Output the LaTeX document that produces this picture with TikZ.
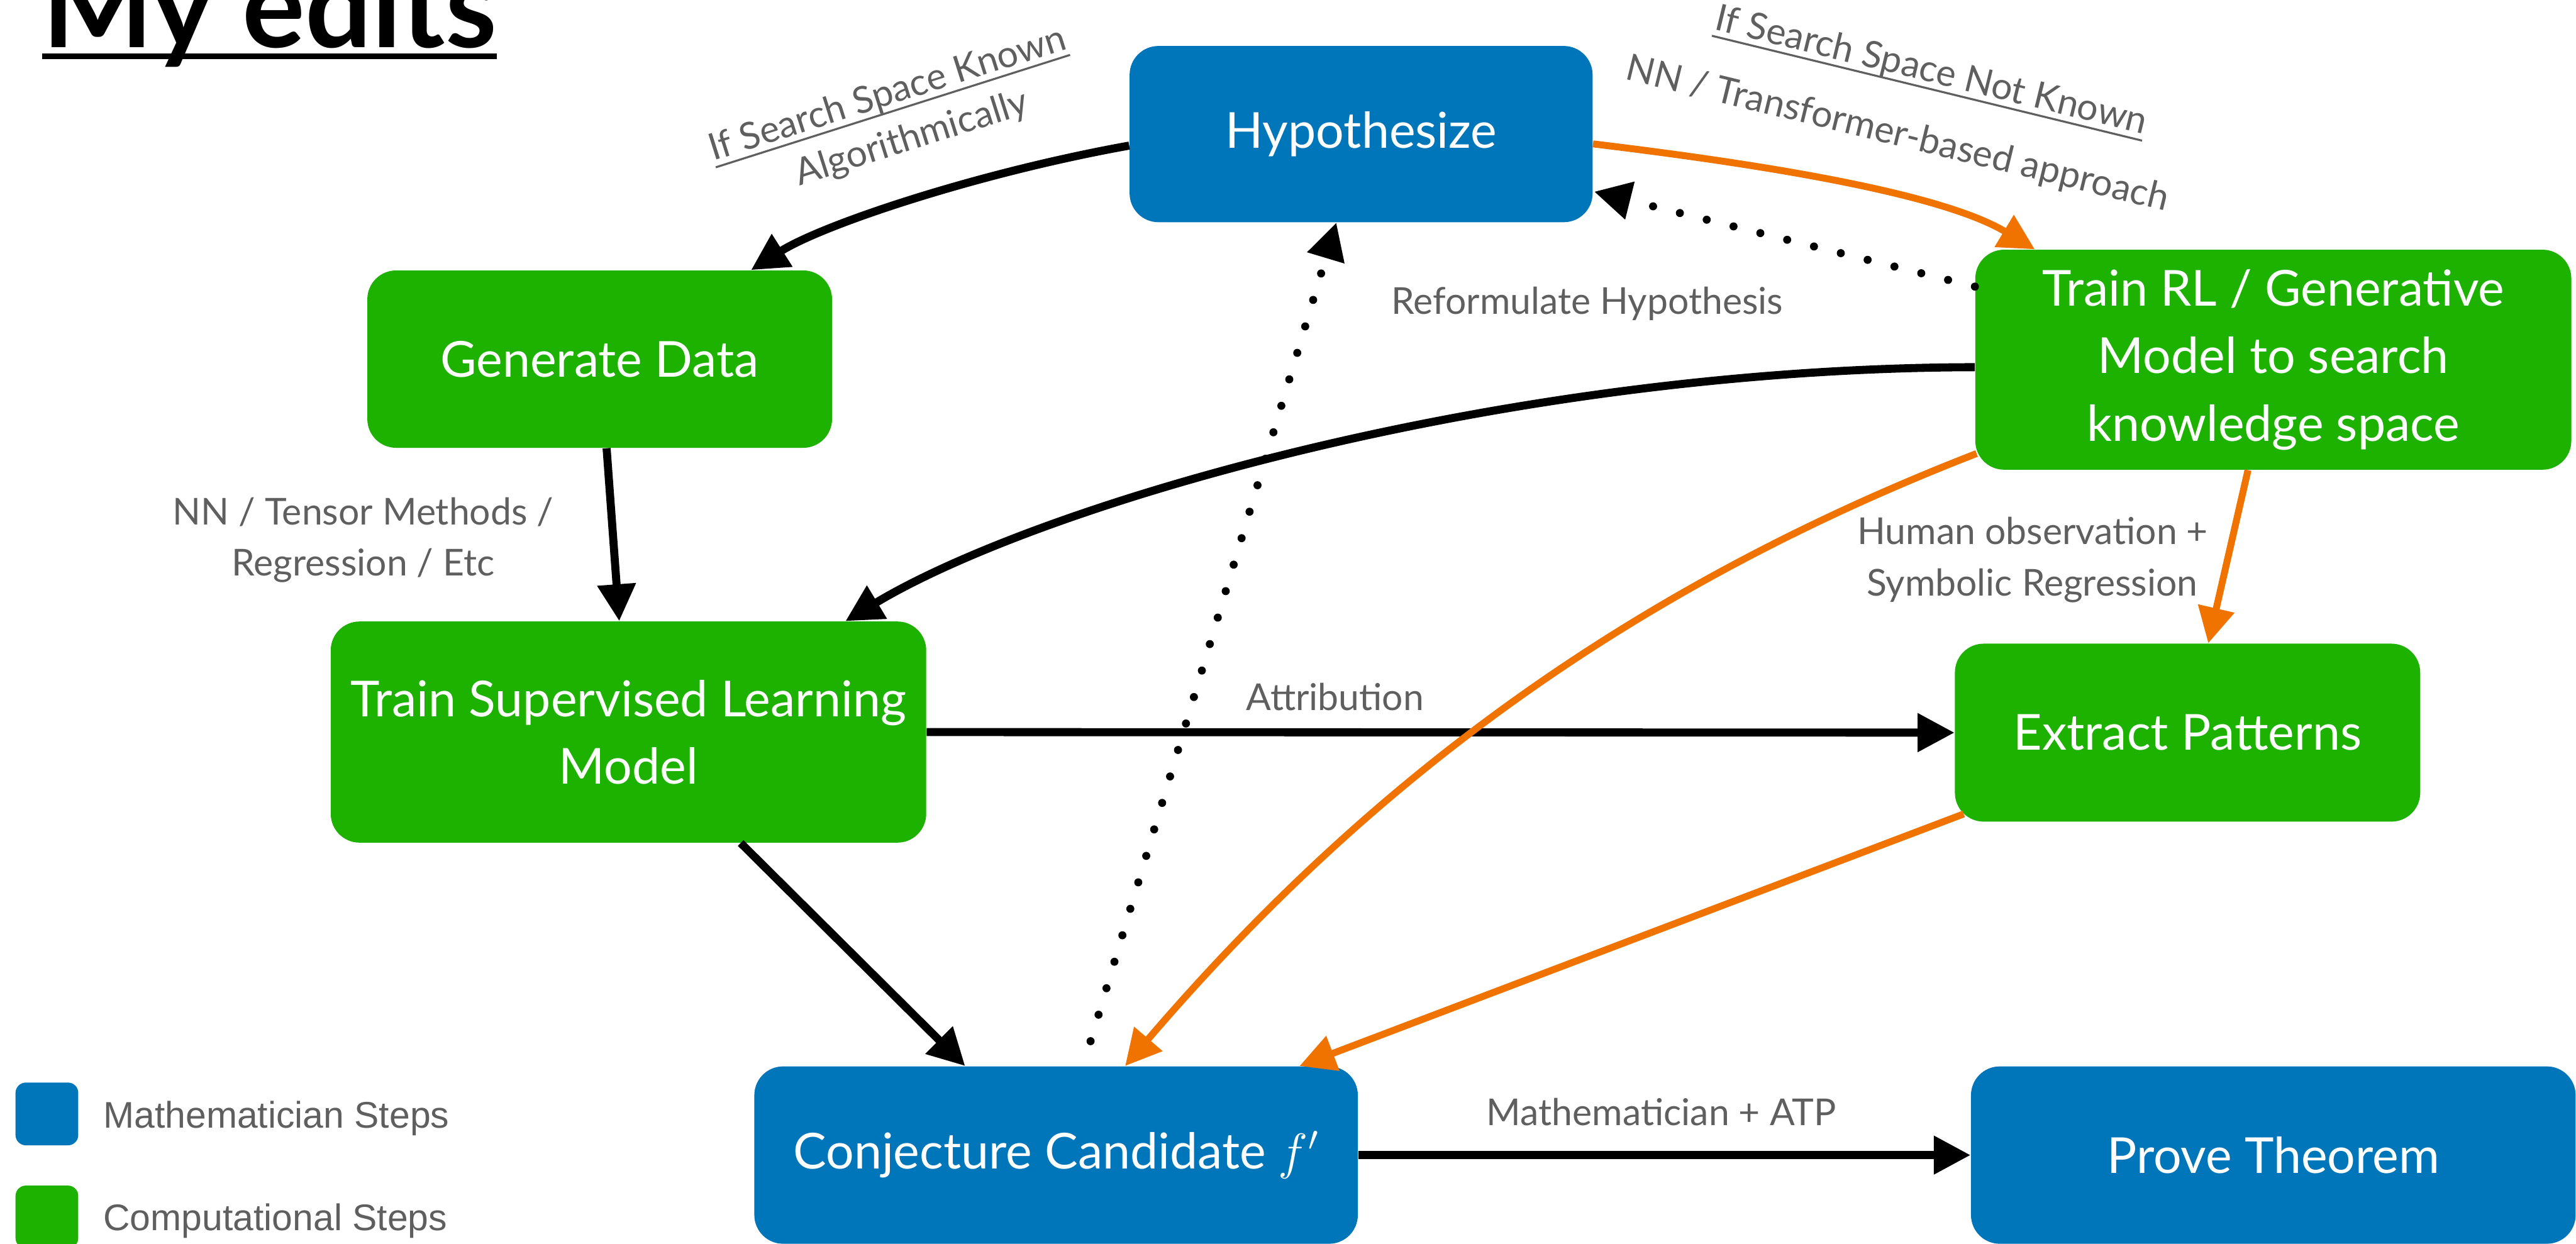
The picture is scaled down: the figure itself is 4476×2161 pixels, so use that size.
\documentclass[tikz,border=0pt]{standalone}
\usepackage{fontspec}
\setmainfont{Lato}
\newfontfamily\legendfont{Liberation Sans}
\usetikzlibrary{arrows.meta,calc}

% text with a rule of given thickness (#1) set a given distance (#2) below the baseline
\newcommand{\ruleunder}[3]{\setbox0=\hbox{#3}\rlap{\vrule height -#2 depth \dimexpr #2+#1\relax width \wd0}\box0}

\definecolor{mathblue}{HTML}{0076BA}
\definecolor{compgreen}{HTML}{1DB100}
\definecolor{searchorange}{HTML}{F07300}
\definecolor{labelgray}{HTML}{5F5F5F}

\begin{document}
\begin{tikzpicture}[x=0.01cm,y=-0.01cm,
  stepbox/.style={rounded corners=0.5cm, inner sep=0pt, align=center, text=white,
    font=\fontsize{24.5}{33.4}\selectfont},
  mathstep/.style={stepbox, fill=mathblue},
  compstep/.style={stepbox, fill=compgreen},
  edgelabel/.style={text=labelgray, inner sep=0pt, anchor=base,
    font=\fontsize{18.3}{25}\selectfont},
  legendtext/.style={text=labelgray, inner sep=0pt, anchor=base west,
    font=\legendfont\fontsize{18.3}{22}\selectfont},
  legendkey/.style={rounded corners=0.18cm, minimum size=1.09cm, inner sep=0pt},
  flow/.style={line width=0.14cm, -{Triangle[length=0.64cm,width=0.64cm]}},
  searchflow/.style={color=searchorange, line width=0.12cm,
    -{Triangle[length=0.62cm,width=0.62cm]}},
  feedback/.style={line width=0.14cm, line cap=round,
    dash pattern=on 0pt off 0.48cm, -{Triangle[length=0.64cm,width=0.64cm]}}
]
\useasboundingbox (0,0) rectangle (4476,2161);
\clip (0,0) rectangle (4476,2161);

% title
\node[anchor=base west, inner sep=0pt,
  font=\fontsize{58}{58}\selectfont\bfseries] (title) at (73,82)
  {\ruleunder{2.85pt}{3.1pt}{My edits}};

% steps
\node[mathstep, minimum width=8.04cm, minimum height=3.06cm] (hyp) at (2365,233) {Hypothesize};
\node[compstep, minimum width=8.07cm, minimum height=3.08cm] (gen) at (1042,624) {Generate Data};
\node[compstep, minimum width=10.35cm, minimum height=3.82cm] (rl) at (3950,625)
  {Train RL / Generative\\Model to search\\knowledge space};
\node[compstep, minimum width=10.34cm, minimum height=3.84cm] (sup) at (1092,1272)
  {Train Supervised Learning\\Model};
\node[compstep, minimum width=8.08cm, minimum height=3.09cm] (ext) at (3801,1273) {Extract Patterns};
\node[mathstep, minimum width=10.48cm, minimum height=3.08cm] (conj) at (1835,2007)
  {Conjecture Candidate $f'$};
\node[mathstep, minimum width=10.50cm, minimum height=3.08cm] (prove) at (3950,2007) {Prove Theorem};

% edge labels
\node[edgelabel, rotate=17.6] (knownA) at (1548,182) {\ruleunder{1pt}{2.8pt}{If Search Space Known}};
\node[edgelabel, rotate=17.6] (knownB) at (1590,259) {Algorithmically};
\node[edgelabel, rotate=-13.7] (unknownA) at (3351,142) {\ruleunder{1pt}{2.8pt}{If Search Space Not Known}};
\node[edgelabel, rotate=-13.7] (unknownB) at (3292,252) {NN / Transformer-based approach};
\node[edgelabel] (reform) at (2758,546) {Reformulate Hypothesis};
\node[edgelabel] (nnA) at (631,912) {NN / Tensor Methods /};
\node[edgelabel] (nnB) at (631,1000) {Regression / Etc};
\node[edgelabel] (humanA) at (3532,946) {Human observation +};
\node[edgelabel] (humanB) at (3531,1035) {Symbolic Regression};
\node[edgelabel] (attr) at (2320,1234) {Attribution};
\node[edgelabel] (atp) at (2887,1956) {Mathematician + ATP};

% legend
\node[legendkey, fill=mathblue] (keymath) at (81.5,1935.5) {};
\node[legendtext] (keymathtext) at (179,1960) {Mathematician Steps};
\node[legendkey, fill=compgreen] (keycomp) at (81.5,2114.5) {};
\node[legendtext] (keycomptext) at (179,2138) {Computational Steps};

% computational pipeline
\draw[flow] ($(hyp.west)+(0,20)$) .. controls (1700,300) and (1430,390) .. ($(gen.north)+(263,0)$);
\draw[flow] ($(gen.south)+(12,0)$) -- ($(sup.north)+(-16,0)$);
\draw[flow] ($(rl.west)+(0,13)$) .. controls (2600,640) and (1800,880) .. ($(sup.north)+(377,0)$);
\draw[flow] (sup.east) -- (ext.west);
\draw[flow] ($(sup.south)+(195,0)$) -- ($(conj.north)+(-158,0)$);
\draw[flow] (conj.east) -- (prove.west);

% feedback to the hypothesis
\draw[feedback, shorten <=0.45cm] ($(conj.north)+(47,0)$) -- ($(hyp.south)+(-43,0)$);
\draw[feedback] ($(rl.west)+(0,-127)$) -- ($(hyp.east)+(2,100)$);

% learned search
\draw[searchflow] ($(hyp.east)+(0,17)$) .. controls (3100,290) and (3380,340) .. ($(rl.north west)+(104,0)$);
\draw[searchflow] ($(rl.west)+(3,163)$) .. controls (2785,1040) and (2345,1397) .. ($(conj.north)+(120,0)$);
\draw[searchflow] ($(rl.south)+(-44,0)$) -- ($(ext.north)+(36,0)$);
\draw[searchflow] ($(ext.south west)+(16,-14)$) -- ($(conj.north)+(423,0)$);
\end{tikzpicture}
\end{document}
